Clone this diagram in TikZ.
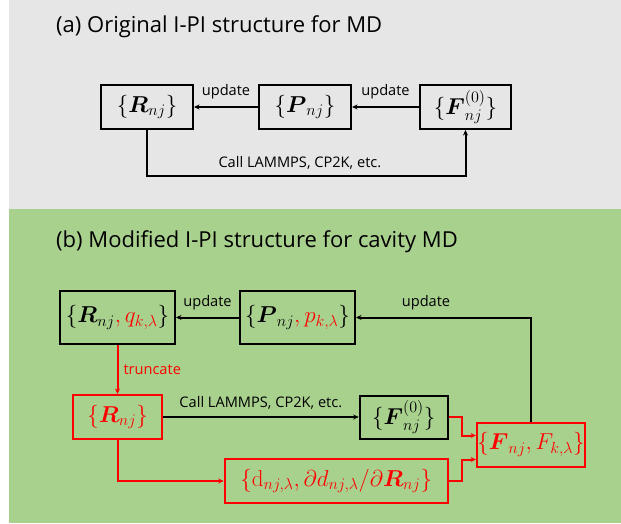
\documentclass[tikz,border=0pt]{standalone}
\usepackage{fix-cm}
\usepackage{amsmath,amssymb}
\usepackage[no-math]{fontspec}
\setmainfont{Open Sans}
\usepackage{xcolor}
\usetikzlibrary{arrows.meta,positioning}
\definecolor{panelgray}{HTML}{E7E6E6}
\definecolor{panelgreen}{HTML}{A9D18E}
\newcommand{\boxfont}{\fontsize{23}{26}\selectfont}
\newcommand{\lblfont}{\fontsize{14.6}{17}\selectfont}
\newcommand{\titlefont}{\fontsize{22}{26}\selectfont}

\begin{document}
\begin{tikzpicture}[
  x=1pt, y=1pt,
  box/.style={draw, line width=2pt, inner sep=0pt, font=\boxfont},
  redbox/.style={box, draw=red, text=red},
  link/.style={line width=2pt, ->},
  redlink/.style={link, draw=red},
  lbl/.style={font=\lblfont, inner sep=1pt},
  paneltitle/.style={font=\titlefont, inner sep=0pt, anchor=base west},
  >={Stealth[length=5.5pt,width=5pt]}
]
% Panels
\useasboundingbox (0,0) rectangle (621,-523);
\fill[panelgray] (9,0) rectangle (621,-209);
\fill[panelgreen] (9,-209) rectangle (621,-523);

% (a) original structure
\node[paneltitle] (titleA) at (56,-32) {(a) Original I-PI structure for MD};
\node[box, minimum width=92pt, minimum height=44pt] (P) at (305,-107) {$\{\boldsymbol{P}_{nj}\}$};
\node[box, minimum width=92pt, minimum height=44pt, left=64pt of P] (R) {$\{\boldsymbol{R}_{nj}\}$};
\node[box, minimum width=91pt, minimum height=44pt, right=67pt of P] (F) {$\{\boldsymbol{F}^{(0)}_{nj}\}$};

\draw[link] (P) -- node[lbl, above=6pt] {update} (R);
\draw[link] (F) -- node[lbl, above=6pt] {update} (P);
\draw[link] (R.south) -- ++(0,-46) -| node[lbl, above=5pt, pos=0.24] {Call LAMMPS, CP2K, etc.} (F.south);

% (b) modified structure for cavity MD
\node[paneltitle] (titleB) at (56,-247) {(b) Modified I-PI structure for cavity MD};
\node[box, minimum width=115pt, minimum height=53pt] (Rq) at (117.5,-317.5) {$\{\boldsymbol{R}_{nj}{\color{red},q_{k,\lambda}}\}$};
\node[box, minimum width=115pt, minimum height=53pt, right=63pt of Rq] (Pp) {$\{\boldsymbol{P}_{nj}{\color{red},p_{k,\lambda}}\}$};
\node[redbox, minimum width=89pt, minimum height=44pt, below=49pt of Rq] (Rt) {$\{\boldsymbol{R}_{nj}\}$};
\node[box, minimum width=88pt, minimum height=43pt, right=195.7pt of Rt] (F0) {$\{\boldsymbol{F}^{(0)}_{nj}\}$};
\node[redbox, minimum width=223pt, minimum height=44pt, below right=18pt and 60.7pt of Rt] (D) {$\{\mathrm{d}_{nj,\lambda},\partial d_{nj,\lambda}/\partial\boldsymbol{R}_{nj}\}$};
\node[redbox, minimum width=108pt, minimum height=44pt, right=27.3pt of F0, yshift=-27.5pt] (Ft) {$\{\boldsymbol{F}_{nj},F_{k,\lambda}\}$};

\draw[link] (Pp) -- node[lbl, above=6pt] {update} (Rq);
\draw[redlink] (Rq.south) -- node[lbl, right=4pt, text=red] {truncate} (Rt.north);
\draw[link] (Rt.east) -- node[lbl, above=6pt] {Call LAMMPS, CP2K, etc.} (Rt.east -| F0.west);
\draw[redlink] (Rt.south) |- (D.west);
\draw[redlink] (F0.east) -- ++(13.5,0) |- ([yshift=9pt]Ft.west);
\draw[redlink] (D.east) -- ++(13.5,0) |- ([yshift=-15pt]Ft.west);
\draw[link] (Ft.north) |- node[lbl, above=6pt, pos=0.8] {update} (Pp.east);

\end{tikzpicture}
\end{document}
